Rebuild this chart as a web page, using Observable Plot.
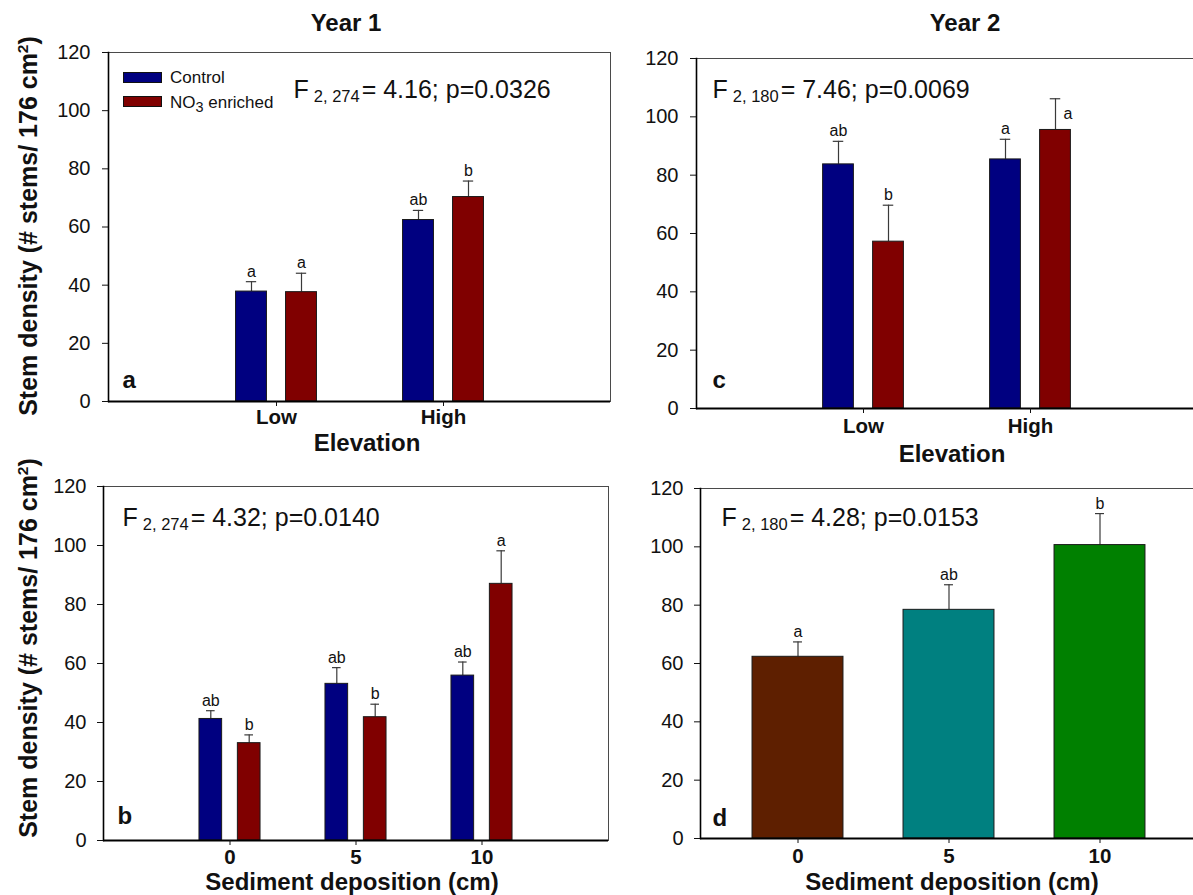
<!DOCTYPE html>
<html>
<head>
<meta charset="utf-8">
<script src="https://cdn.jsdelivr.net/npm/d3@7"></script>
<script src="https://cdn.jsdelivr.net/npm/@observablehq/plot@0.6"></script>
<style>
html, body { margin: 0; padding: 0; background: #fff; overflow: hidden; }
#root { position: relative; width: 1193px; height: 895px; overflow: hidden; background: #fff;
  font-family: "Liberation Sans", Arial, sans-serif; color: #111; }
.panel { position: absolute; }
.lbl { position: absolute; white-space: nowrap; line-height: 1; font-weight: bold; font-size: 24px;
  transform: translate(-50%, -50%); }
.rot { font-size: 25px; transform: translate(-50%, -50%) rotate(-90deg); }
.rot sup { font-size: 0.62em; vertical-align: 0.55em; line-height: 0; }
.sw { position: absolute; box-sizing: border-box; border: 1px solid #111; width: 39px; height: 11px; }
.lg { position: absolute; white-space: nowrap; font-size: 17px; line-height: 1; transform: translateY(-50%); }
.lg sub { font-size: 0.85em; vertical-align: -0.3em; line-height: 0; }
</style>
</head>
<body>
<div id="root"></div>
<script>
// ---------- data ----------
const yTicks = [0, 20, 40, 60, 80, 100, 120];
const elevation = ["Low", "High"];
const sediment = ["0", "5", "10"];
const treatments = ["Control", "NO3 enriched"];

// Year 1, elevation (panel a)
const y1ElevControl = [37.8, 62.4];
const y1ElevControlSE = [3.4, 3.3];
const y1ElevControlLetters = ["a", "ab"];
const y1ElevNO3 = [37.6, 70.3];
const y1ElevNO3SE = [6.5, 5.5];
const y1ElevNO3Letters = ["a", "b"];

// Year 1, sediment deposition (panel b)
const y1SedControl = [41.2, 53.1, 55.9];
const y1SedControlSE = [2.8, 5.5, 4.6];
const y1SedControlLetters = ["ab", "ab", "ab"];
const y1SedNO3 = [33.0, 41.8, 87.0];
const y1SedNO3SE = [2.8, 4.4, 11.2];
const y1SedNO3Letters = ["b", "b", "a"];

// Year 2, elevation (panel c)
const y2ElevControl = [83.7, 85.4];
const y2ElevControlSE = [7.9, 6.9];
const y2ElevControlLetters = ["ab", "a"];
const y2ElevNO3 = [57.2, 95.5];
const y2ElevNO3SE = [12.5, 10.7];
const y2ElevNO3Letters = ["b", "a"];

// Year 2, sediment deposition (panel d)
const y2Sed = [62.3, 78.4, 100.6];
const y2SedSE = [5.1, 8.6, 10.8];
const y2SedLetters = ["a", "ab", "b"];

// ANOVA statistics for panels a, b, c, d
const statPanels = ["a", "b", "c", "d"];
const statDf = ["2, 274", "2, 274", "2, 180", "2, 180"];
const statF = ["4.16", "4.32", "7.46", "4.28"];
const statP = ["0.0326", "0.0140", "0.0069", "0.0153"];

// palettes
const treatmentColors = ["#000080", "#800000"];
const sedimentColors = ["#5e1f00", "#008080", "#008000"];

// ---------- helpers ----------
const root = document.getElementById("root");
const NS = "http://www.w3.org/2000/svg";

function addLabel(html, cx, cy, cls) {
  const d = document.createElement("div");
  d.className = "lbl" + (cls ? " " + cls : "");
  d.style.left = cx + "px";
  d.style.top = cy + "px";
  d.innerHTML = html;
  root.appendChild(d);
}

function makePanel(cfg) {
  const {cats, series, left, top, W, H, ml, mr, mt, mb, pi, po, barW, gap, capW,
         panel, statDx, statDy, tagDx, tagDy, xPad, yPad, beside, color} = cfg;
  const n = cats.length;
  const plotW = W - ml - mr;
  const step = plotW / (n - pi + 2 * po);
  const bw = step * (1 - pi);
  const inset = w => (bw - w) / 2;
  const k0 = statPanels.indexOf(panel);
  const statText = `F ${statDf[k0]} = ${statF[k0]}; p=${statP[k0]}`;

  const marks = [Plot.frame({stroke: "#4a4a4a", strokeWidth: 1})];
  series.forEach((s, k) => {
    const dx = series.length === 1 ? 0 : (k - (series.length - 1) / 2) * gap;
    const rows = cats.map((c, i) => ({cat: c, v: s.values[i], top: s.values[i] + s.se[i], lab: s.letters[i]}));
    const isBeside = r => beside && beside.series === k && beside.cat === r.cat;
    marks.push(
      Plot.ruleX(rows, {x: "cat", y1: "v", y2: "top", dx, stroke: "#3a3a3a", strokeWidth: 1.2}),
      Plot.tickY(rows, {x: "cat", y: "top", dx, insetLeft: inset(capW), insetRight: inset(capW), stroke: "#3a3a3a", strokeWidth: 1.2}),
      Plot.barY(rows, {x: "cat", y: "v", dx, insetLeft: inset(barW), insetRight: inset(barW),
        fill: s.color || "cat", stroke: "#1a1a1a", strokeWidth: 1}),
      Plot.text(rows.filter(r => !isBeside(r)), {x: "cat", y: "top", text: "lab", dx, dy: -5,
        lineAnchor: "bottom", fontSize: 16, fill: "#111"}),
      Plot.text(rows.filter(isBeside), {x: "cat", y: "top", text: "lab", dx: dx + 8, dy: 15,
        textAnchor: "start", lineAnchor: "middle", fontSize: 16, fill: "#111"})
    );
  });
  marks.push(
    Plot.ruleY([0], {stroke: "#000", strokeWidth: 1.8}),
    Plot.frame({anchor: "left", stroke: "#000", strokeWidth: 1.6}),
    Plot.axisY({ticks: yTicks, tickSize: 6, tickPadding: yPad, fontSize: 20, label: null}),
    Plot.axisX({tickSize: 5, tickPadding: xPad, fontSize: 20.5, fontWeight: "bold", label: null}),
    Plot.text([statText], {text: d => d, frameAnchor: "top-left", dx: statDx, dy: statDy,
      lineAnchor: "bottom", textAnchor: "start", fontSize: 25, fill: "#111"}),
    Plot.text([panel], {text: d => d, frameAnchor: "bottom-left", dx: tagDx, dy: tagDy,
      lineAnchor: "bottom", textAnchor: "start", fontSize: 24, fontWeight: "bold", fill: "#111"})
  );

  const svg = Plot.plot({
    width: W, height: H,
    marginLeft: ml, marginRight: mr, marginTop: mt, marginBottom: mb,
    x: {type: "band", domain: cats, paddingInner: pi, paddingOuter: po, align: 0.5},
    y: {domain: [0, 120]},
    color: color || {domain: treatments, range: treatmentColors},
    style: {fontFamily: "Liberation Sans, Arial, sans-serif", color: "#111", background: "transparent",
      maxWidth: "none", overflow: "visible"},
    marks
  });

  // subscript the degrees of freedom in the F statistic
  svg.querySelectorAll("text").forEach(t => {
    if (t.textContent !== statText) return;
    t.textContent = "";
    const a = document.createElementNS(NS, "tspan");
    a.textContent = "F";
    const b = document.createElementNS(NS, "tspan");
    b.textContent = statDf[k0];
    b.setAttribute("font-size", "16.5");
    b.setAttribute("dx", "5");
    b.setAttribute("dy", "4");
    const c = document.createElementNS(NS, "tspan");
    c.textContent = "= " + statF[k0] + "; p=" + statP[k0];
    c.setAttribute("dx", "2");
    c.setAttribute("dy", "-4");
    t.append(a, b, c);
  });

  const wrap = document.createElement("div");
  wrap.className = "panel";
  wrap.style.left = left + "px";
  wrap.style.top = top + "px";
  wrap.style.width = W + "px";
  wrap.style.height = H + "px";
  wrap.appendChild(svg);
  root.appendChild(wrap);
}

// ---------- panels ----------
makePanel({
  panel: "a", cats: elevation, left: 0, top: 0, W: 612, H: 465,
  ml: 108, mr: 2, mt: 52, mb: 64, pi: 0.5, po: 0.75, barW: 30.6, gap: 50, capW: 10,
  statDx: 185, statDy: 45, tagDx: 14, tagDy: -14, xPad: 3, yPad: 12,
  series: [
    {values: y1ElevControl, se: y1ElevControlSE, letters: y1ElevControlLetters, color: treatmentColors[0]},
    {values: y1ElevNO3, se: y1ElevNO3SE, letters: y1ElevNO3Letters, color: treatmentColors[1]}
  ]
});

makePanel({
  panel: "c", cats: elevation, left: 612, top: 0, W: 587, H: 475,
  ml: 84, mr: 2, mt: 58, mb: 67, pi: 0.5, po: 0.75, barW: 30.3, gap: 50, capW: 10,
  statDx: 16, statDy: 39, tagDx: 16, tagDy: -21, xPad: 5, yPad: 12,
  beside: {series: 1, cat: "High"},
  series: [
    {values: y2ElevControl, se: y2ElevControlSE, letters: y2ElevControlLetters, color: treatmentColors[0]},
    {values: y2ElevNO3, se: y2ElevNO3SE, letters: y2ElevNO3Letters, color: treatmentColors[1]}
  ]
});

makePanel({
  panel: "b", cats: sediment, left: 0, top: 460, W: 610, H: 435,
  ml: 103, mr: 2, mt: 26, mb: 55, pi: 0.5, po: 0.743, barW: 23, gap: 38.4, capW: 9,
  statDx: 19, statDy: 39, tagDx: 14, tagDy: -17, xPad: 4, yPad: 11,
  series: [
    {values: y1SedControl, se: y1SedControlSE, letters: y1SedControlLetters, color: treatmentColors[0]},
    {values: y1SedNO3, se: y1SedNO3SE, letters: y1SedNO3Letters, color: treatmentColors[1]}
  ]
});

makePanel({
  panel: "d", cats: sediment, left: 612, top: 460, W: 587, H: 435,
  ml: 88, mr: 2, mt: 28, mb: 57, pi: 0.4, po: 0.3375, barW: 91, gap: 0, capW: 9,
  statDx: 21, statDy: 37, tagDx: 12, tagDy: -13, xPad: 5, yPad: 11,
  color: {domain: sediment, range: sedimentColors},
  series: [
    {values: y2Sed, se: y2SedSE, letters: y2SedLetters}
  ]
});

// ---------- titles & axis titles ----------
addLabel("Year 1", 346, 23);
addLabel("Year 2", 965, 23);
addLabel("Elevation", 367, 443);
addLabel("Elevation", 952, 454);
addLabel("Sediment deposition (cm)", 352, 882);
addLabel("Sediment deposition (cm)", 952, 882);
addLabel("Stem density (# stems/ 176 cm<sup>2</sup>)", 28, 226, "rot");
addLabel("Stem density (# stems/ 176 cm<sup>2</sup>)", 28, 648, "rot");

// ---------- legend (panel a) ----------
treatments.forEach((t, i) => {
  const sw = document.createElement("div");
  sw.className = "sw";
  sw.style.left = "123px";
  sw.style.top = (72 + i * 24) + "px";
  sw.style.background = treatmentColors[i];
  root.appendChild(sw);
  const lg = document.createElement("div");
  lg.className = "lg";
  lg.style.left = "170px";
  lg.style.top = (77 + i * 24.5) + "px";
  lg.innerHTML = t.replace("NO3", "NO<sub>3</sub>");
  root.appendChild(lg);
});
</script>
</body>
</html>
